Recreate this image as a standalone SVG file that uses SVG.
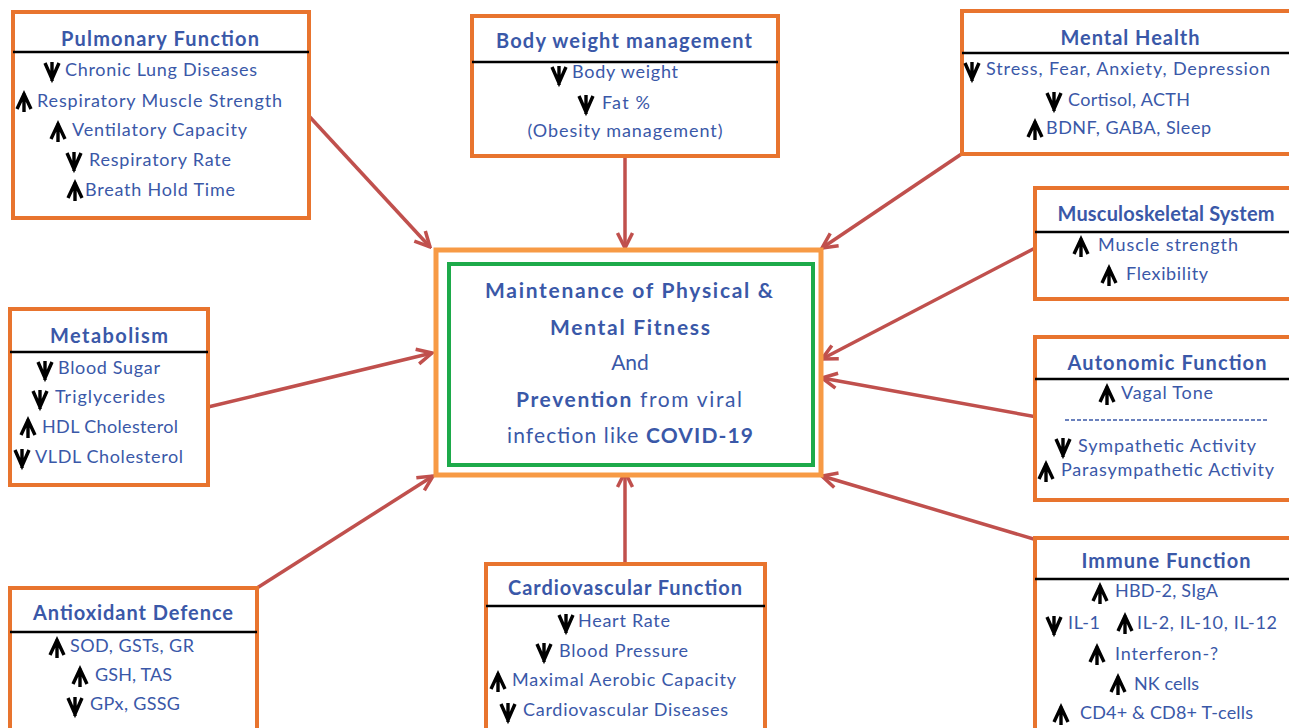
<svg xmlns="http://www.w3.org/2000/svg" width="1289" height="728" viewBox="0 0 1289 728">
<style>
.box{fill:#fff;stroke:#E8742E;stroke-width:4}
.div{stroke:#000;stroke-width:2.5}
.t{font-family:Lato,"Open Sans","Liberation Sans",sans-serif;font-weight:bold;font-size:20px;fill:#3A58A8;text-anchor:middle}
.i{font-family:Lato,"Open Sans","Liberation Sans",sans-serif;font-size:18px;fill:#3A58A8}
.c{font-family:Lato,"Open Sans","Liberation Sans",sans-serif;font-size:21px;fill:#3A58A8;text-anchor:middle}
.b{font-weight:bold}
.ar{fill:none;stroke:#000;stroke-width:3.4}
.con{stroke:#C0504D;stroke-width:3.5;fill:none;marker-end:url(#ah)}
</style>
<defs>
<marker id="ah" viewBox="0 0 20 20" refX="18" refY="10" markerWidth="20" markerHeight="20" markerUnits="userSpaceOnUse" orient="auto">
<path d="M3,2.5 L18,10 L3,17.5" fill="none" stroke="#C0504D" stroke-width="3.5"/>
</marker>
<path id="up" class="ar" d="M0,-9 V10 M-7,7 L0,-8 L7,7"/>
<path id="dn" class="ar" d="M0,10 V-9 M-7,-8 L0,8 L7,-8"/>
</defs>
<rect width="1289" height="728" fill="#fff"/>

<g id="connectors">
<line class="con" x1="308" y1="115" x2="430" y2="247"/>
<line class="con" x1="625" y1="156" x2="625" y2="248"/>
<line class="con" x1="963" y1="153" x2="822" y2="248"/>
<line class="con" x1="1037" y1="247" x2="822" y2="359"/>
<line class="con" x1="1037" y1="417" x2="822" y2="378"/>
<line class="con" x1="1037" y1="540" x2="822" y2="476"/>
<line class="con" x1="625" y1="563" x2="625" y2="472"/>
<line class="con" x1="257" y1="588" x2="433" y2="476"/>
<line class="con" x1="208" y1="407" x2="432" y2="353"/>
</g>

<g id="center">
<rect x="436" y="250" width="385" height="225" fill="#fff" stroke="#F79A45" stroke-width="5"/>
<rect x="449" y="264" width="364" height="201" fill="none" stroke="#1DAA4A" stroke-width="4"/>
<text class="c b" x="629" y="298" textLength="288" lengthAdjust="spacing">Maintenance of Physical &amp;</text>
<text class="c b" x="630" y="335" textLength="160" lengthAdjust="spacing">Mental Fitness</text>
<text class="c" x="630" y="370">And</text>
<text class="c" x="629" y="407" textLength="226" lengthAdjust="spacing"><tspan class="b">Prevention</tspan> from viral</text>
<text class="c" x="630" y="443" textLength="246" lengthAdjust="spacing">infection like <tspan class="b">COVID-19</tspan></text>
</g>

<g id="pulmonary">
<rect class="box" x="13" y="12" width="296" height="206"/>
<line class="div" x1="13" y1="52" x2="309" y2="52"/>
<text class="t" x="160" y="46" textLength="198" lengthAdjust="spacing">Pulmonary Function</text>
<use href="#dn" x="52" y="71"/><text class="i" x="65" y="76" textLength="192" lengthAdjust="spacing">Chronic Lung Diseases</text>
<use href="#up" x="24" y="102"/><text class="i" x="37" y="107" textLength="245" lengthAdjust="spacing">Respiratory Muscle Strength</text>
<use href="#up" x="58" y="132"/><text class="i" x="72" y="136" textLength="175" lengthAdjust="spacing">Ventilatory Capacity</text>
<use href="#dn" x="74" y="161"/><text class="i" x="89" y="166" textLength="142" lengthAdjust="spacing">Respiratory Rate</text>
<use href="#up" x="75" y="191"/><text class="i" x="85" y="196" textLength="150" lengthAdjust="spacing">Breath Hold Time</text>
</g>

<g id="bodyweight">
<rect class="box" x="472" y="16" width="306" height="140"/>
<line class="div" x1="472" y1="62" x2="778" y2="62"/>
<text class="t" x="624" y="48" textLength="256" lengthAdjust="spacing">Body weight management</text>
<use href="#dn" x="559" y="75"/><text class="i" x="572" y="78" textLength="106" lengthAdjust="spacing">Body weight</text>
<use href="#dn" x="586" y="104"/><text class="i" x="602" y="109" textLength="48" lengthAdjust="spacing">Fat %</text>
<text class="i" x="625" y="137" text-anchor="middle" textLength="195" lengthAdjust="spacing">(Obesity management)</text>
</g>

<g id="mental">
<rect class="box" x="962" y="11" width="340" height="143"/>
<line class="div" x1="962" y1="53" x2="1289" y2="53"/>
<text class="t" x="1130" y="45" textLength="139" lengthAdjust="spacing">Mental Health</text>
<use href="#dn" x="972" y="71"/><text class="i" x="986" y="75" textLength="284" lengthAdjust="spacing">Stress, Fear, Anxiety, Depression</text>
<use href="#dn" x="1054" y="101"/><text class="i" x="1068" y="106" textLength="122" lengthAdjust="spacing">Cortisol, ACTH</text>
<use href="#up" x="1035" y="130"/><text class="i" x="1046" y="134" textLength="165" lengthAdjust="spacing">BDNF, GABA, Sleep</text>
</g>

<g id="musculoskeletal">
<rect class="box" x="1035" y="188" width="260" height="111"/>
<line class="div" x1="1035" y1="232" x2="1289" y2="232"/>
<text class="t" x="1166" y="221" textLength="217" lengthAdjust="spacing">Musculoskeletal System</text>
<use href="#up" x="1081" y="247"/><text class="i" x="1098" y="251" textLength="140" lengthAdjust="spacing">Muscle strength</text>
<use href="#up" x="1109" y="276"/><text class="i" x="1126" y="280" textLength="82" lengthAdjust="spacing">Flexibility</text>
</g>

<g id="autonomic">
<rect class="box" x="1035" y="337" width="260" height="163"/>
<line class="div" x1="1035" y1="379" x2="1289" y2="379"/>
<text class="t" x="1167" y="370" textLength="199" lengthAdjust="spacing">Autonomic Function</text>
<use href="#up" x="1107" y="395"/><text class="i" x="1121" y="399" textLength="92" lengthAdjust="spacing">Vagal Tone</text>
<line x1="1065" y1="420" x2="1267" y2="420" stroke="#3A58A8" stroke-width="1.5" stroke-dasharray="4,2"/>
<use href="#dn" x="1063" y="447"/><text class="i" x="1078" y="452" textLength="178" lengthAdjust="spacing">Sympathetic Activity</text>
<use href="#up" x="1046" y="472"/><text class="i" x="1061" y="476" textLength="213" lengthAdjust="spacing">Parasympathetic Activity</text>
</g>

<g id="immune">
<rect class="box" x="1035" y="538" width="260" height="200"/>
<line class="div" x1="1035" y1="579" x2="1289" y2="579"/>
<text class="t" x="1166" y="568" textLength="169" lengthAdjust="spacing">Immune Function</text>
<use href="#up" x="1100" y="594"/><text class="i" x="1115" y="597" textLength="103" lengthAdjust="spacing">HBD-2, SIgA</text>
<use href="#dn" x="1054" y="625"/><text class="i" x="1068" y="629" textLength="32" lengthAdjust="spacing">IL-1</text>
<use href="#up" x="1125" y="624"/><text class="i" x="1137" y="629" textLength="140" lengthAdjust="spacing">IL-2, IL-10, IL-12</text>
<use href="#up" x="1097" y="655"/><text class="i" x="1115" y="660" textLength="103" lengthAdjust="spacing">Interferon-?</text>
<use href="#up" x="1118" y="685"/><text class="i" x="1134" y="690" textLength="65" lengthAdjust="spacing">NK cells</text>
<use href="#up" x="1061" y="715"/><text class="i" x="1080" y="719" textLength="173" lengthAdjust="spacing">CD4+ &amp; CD8+ T-cells</text>
</g>

<g id="metabolism">
<rect class="box" x="10" y="309" width="198" height="176"/>
<line class="div" x1="10" y1="352" x2="208" y2="352"/>
<text class="t" x="109" y="343" textLength="118" lengthAdjust="spacing">Metabolism</text>
<use href="#dn" x="45" y="370"/><text class="i" x="58" y="374" textLength="102" lengthAdjust="spacing">Blood Sugar</text>
<use href="#dn" x="40" y="399"/><text class="i" x="55" y="403" textLength="110" lengthAdjust="spacing">Triglycerides</text>
<use href="#up" x="28" y="428"/><text class="i" x="42" y="433" textLength="136" lengthAdjust="spacing">HDL Cholesterol</text>
<use href="#dn" x="22" y="458"/><text class="i" x="35" y="463" textLength="148" lengthAdjust="spacing">VLDL Cholesterol</text>
</g>

<g id="antioxidant">
<rect class="box" x="10" y="588" width="247" height="150"/>
<line class="div" x1="10" y1="632" x2="257" y2="632"/>
<text class="t" x="133" y="620" textLength="200" lengthAdjust="spacing">Antioxidant Defence</text>
<use href="#up" x="57" y="648"/><text class="i" x="70" y="652" textLength="124" lengthAdjust="spacing">SOD, GSTs, GR</text>
<use href="#up" x="80" y="677"/><text class="i" x="95" y="681" textLength="77" lengthAdjust="spacing">GSH, TAS</text>
<use href="#dn" x="75" y="706"/><text class="i" x="90" y="710" textLength="90" lengthAdjust="spacing">GPx, GSSG</text>
</g>

<g id="cardiovascular">
<rect class="box" x="486" y="564" width="279" height="180"/>
<line class="div" x1="486" y1="606" x2="765" y2="606"/>
<text class="t" x="625" y="595" textLength="234" lengthAdjust="spacing">Cardiovascular Function</text>
<use href="#dn" x="566" y="623"/><text class="i" x="578" y="627" textLength="92" lengthAdjust="spacing">Heart Rate</text>
<use href="#dn" x="544" y="652"/><text class="i" x="559" y="657" textLength="129" lengthAdjust="spacing">Blood Pressure</text>
<use href="#up" x="498" y="682"/><text class="i" x="512" y="686" textLength="224" lengthAdjust="spacing">Maximal Aerobic Capacity</text>
<use href="#dn" x="508" y="712"/><text class="i" x="523" y="716" textLength="205" lengthAdjust="spacing">Cardiovascular Diseases</text>
</g>
</svg>
